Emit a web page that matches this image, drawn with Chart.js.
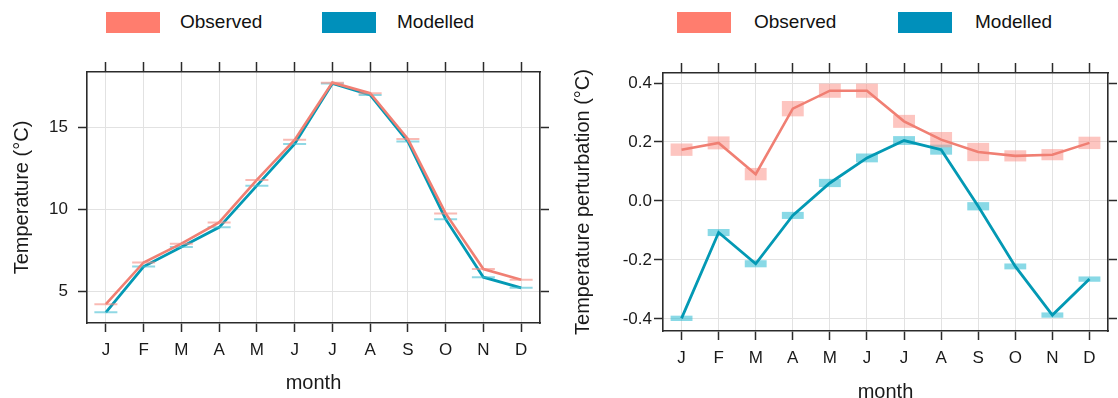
<!DOCTYPE html>
<html>
<head>
<meta charset="utf-8">
<script src="https://cdn.jsdelivr.net/npm/chart.js@4.4.1/dist/chart.umd.min.js"></script>
<style>
  html, body { margin: 0; padding: 0; background: #fff; overflow: hidden; }
  body { width: 1118px; height: 398px; position: relative; font-family: "Liberation Sans", Arial, sans-serif; }
  canvas { position: absolute; top: 0; }
  .box { position: absolute; top: 12px; width: 54px; height: 21px; }
  .lbl { position: absolute; top: 11px; font-size: 19px; line-height: 22px; color: #111; }
</style>
</head>
<body>
<div class="box" style="left:106px;background:#ff7d6e"></div>
<div class="lbl" style="left:180px">Observed</div>
<div class="box" style="left:322px;background:#0090bb"></div>
<div class="lbl" style="left:397px">Modelled</div>

<div class="box" style="left:677px;background:#ff7d6e"></div>
<div class="lbl" style="left:754px">Observed</div>
<div class="box" style="left:898px;background:#0090bb"></div>
<div class="lbl" style="left:975px">Modelled</div>

<canvas id="chartTemp" width="560" height="398" style="left:0"></canvas>
<canvas id="chartPert" width="558" height="408" style="left:560px"></canvas>

<script>
var months = ['J', 'F', 'M', 'A', 'M', 'J', 'J', 'A', 'S', 'O', 'N', 'D'];

// monthly temperature (°C)
var tempObserved = [4.2, 6.75, 7.9, 9.2, 11.8, 14.25, 17.75, 17.1, 14.3, 9.75, 6.35, 5.7];
var tempModelled = [3.7, 6.5, 7.7, 8.9, 11.45, 14.0, 17.7, 17.0, 14.15, 9.4, 5.85, 5.2];
var tempTicks = [5, 10, 15];

// temperature perturbation (°C) and half height of the shaded boxes
var pertObserved = [0.174, 0.197, 0.091, 0.313, 0.374, 0.374, 0.27, 0.208, 0.166, 0.153, 0.157, 0.197];
var pertModelled = [-0.398, -0.107, -0.213, -0.049, 0.061, 0.146, 0.205, 0.174, -0.018, -0.222, -0.387, -0.265];
var pertObsSpread = [0.021, 0.022, 0.021, 0.026, 0.024, 0.024, 0.022, 0.026, 0.031, 0.019, 0.019, 0.021];
var pertModSpread = [0.009, 0.012, 0.012, 0.012, 0.014, 0.015, 0.015, 0.017, 0.014, 0.010, 0.009, 0.009];
var pertTicks = [-0.4, -0.2, 0.0, 0.2, 0.4];

var pink = '#f07f73';
var teal = '#0399b4';
var ink = '#1a1a1a';
var frame = '#2b2b2b';
var gridCol = '#e2e2e2';
var family = "'Liberation Sans', Arial, sans-serif";

function boxes(center, spread) {
  var out = [];
  for (var i in center) {
    out.push([center[i] - spread[i], center[i] + spread[i]]);
  }
  return out;
}

function fixSize(prop, size) {
  return function(scale) { scale[prop] = size; };
}

function makeScales(cfg) {
  return {
    x: {
      type: 'category', labels: months, offset: true, position: 'bottom',
      grid: { offset: false, color: gridCol, tickColor: frame, tickLength: 9, tickWidth: 1.5 },
      border: { color: frame, width: 1.6 },
      ticks: { color: ink, font: { family: family, size: 17 }, padding: 8, maxRotation: 0, autoSkip: false },
      title: { display: true, text: 'month', color: ink, font: { family: family, size: 20 }, padding: { bottom: cfg.titleBottom } },
      afterFit: fixSize('height', cfg.xHeight)
    },
    x2: {
      type: 'category', labels: months, offset: true, position: 'top',
      grid: { offset: false, drawOnChartArea: false, tickColor: frame, tickLength: 10, tickWidth: 1.5 },
      border: { color: frame, width: 1.6 },
      ticks: { display: false, autoSkip: false },
      afterFit: fixSize('height', 12)
    },
    y: {
      type: 'linear', position: 'left', min: cfg.min, max: cfg.max,
      grid: { color: gridCol, tickColor: frame, tickLength: 9, tickWidth: 1.5 },
      border: { color: frame, width: 1.6 },
      ticks: {
        color: ink, font: { family: family, size: 17 }, padding: cfg.tickPad,
        callback: cfg.format
      },
      afterBuildTicks: function(scale) { scale.ticks = cfg.ticks.map(function(v) { return { value: v }; }); },
      title: { display: true, text: cfg.title, color: ink, font: { family: family, size: 20 }, padding: { top: cfg.titleLeft } },
      afterFit: fixSize('width', cfg.yWidth)
    },
    y2: {
      type: 'linear', position: 'right', min: cfg.min, max: cfg.max,
      grid: { drawOnChartArea: false, tickColor: frame, tickLength: 9, tickWidth: 1.5 },
      border: { color: frame, width: 1.6 },
      ticks: { display: false },
      afterBuildTicks: function(scale) { scale.ticks = cfg.ticks.map(function(v) { return { value: v }; }); },
      afterFit: fixSize('width', cfg.y2Width)
    }
  };
}

new Chart(document.getElementById('chartTemp'), {
  type: 'line',
  data: {
    labels: months,
    datasets: [
      {
        label: 'Observed', data: tempObserved, borderColor: pink, borderWidth: 2.6,
        pointStyle: 'line', pointRadius: 11.5, pointBorderWidth: 2,
        pointBorderColor: 'rgba(245,140,130,0.6)', pointBackgroundColor: 'rgba(245,140,130,0.6)'
      },
      {
        label: 'Modelled', data: tempModelled, borderColor: teal, borderWidth: 2.8,
        pointStyle: 'line', pointRadius: 11.5, pointBorderWidth: 2,
        pointBorderColor: 'rgba(70,190,210,0.6)', pointBackgroundColor: 'rgba(70,190,210,0.6)'
      }
    ]
  },
  options: {
    responsive: false, animation: false,
    layout: { padding: { top: 60, left: 0, right: 0, bottom: 0 } },
    plugins: { legend: { display: false }, tooltip: { enabled: false } },
    scales: makeScales({
      min: 3.05, max: 18.4, ticks: tempTicks, title: 'Temperature (°C)',
      format: function(v) { return String(v); },
      tickPad: 10, titleLeft: 10, yWidth: 87, y2Width: 20, xHeight: 75, titleBottom: 3
    })
  }
});

new Chart(document.getElementById('chartPert'), {
  type: 'bar',
  data: {
    labels: months,
    datasets: [
      {
        type: 'line', label: 'Observed', data: pertObserved, borderColor: pink, borderWidth: 2.6,
        pointRadius: 0, order: 0
      },
      {
        type: 'line', label: 'Modelled', data: pertModelled, borderColor: teal, borderWidth: 2.8,
        pointRadius: 0, order: 0
      },
      {
        label: 'Observed box', data: boxes(pertObserved, pertObsSpread),
        backgroundColor: 'rgba(252,150,140,0.55)', borderWidth: 0,
        grouped: false, barPercentage: 0.59, categoryPercentage: 1, order: 1
      },
      {
        label: 'Modelled box', data: boxes(pertModelled, pertModSpread),
        backgroundColor: 'rgba(40,185,210,0.55)', borderWidth: 0,
        grouped: false, barPercentage: 0.59, categoryPercentage: 1, order: 1
      }
    ]
  },
  options: {
    responsive: false, animation: false,
    layout: { padding: { top: 61, left: 0, right: 0, bottom: 0 } },
    plugins: { legend: { display: false }, tooltip: { enabled: false } },
    scales: makeScales({
      min: -0.441, max: 0.434, ticks: pertTicks, title: 'Temperature perturbation (°C)',
      format: function(v) { return Number(v).toFixed(1); },
      tickPad: 2, titleLeft: 11, yWidth: 103, y2Width: 10, xHeight: 77, titleBottom: 4
    })
  }
});
</script>
</body>
</html>
